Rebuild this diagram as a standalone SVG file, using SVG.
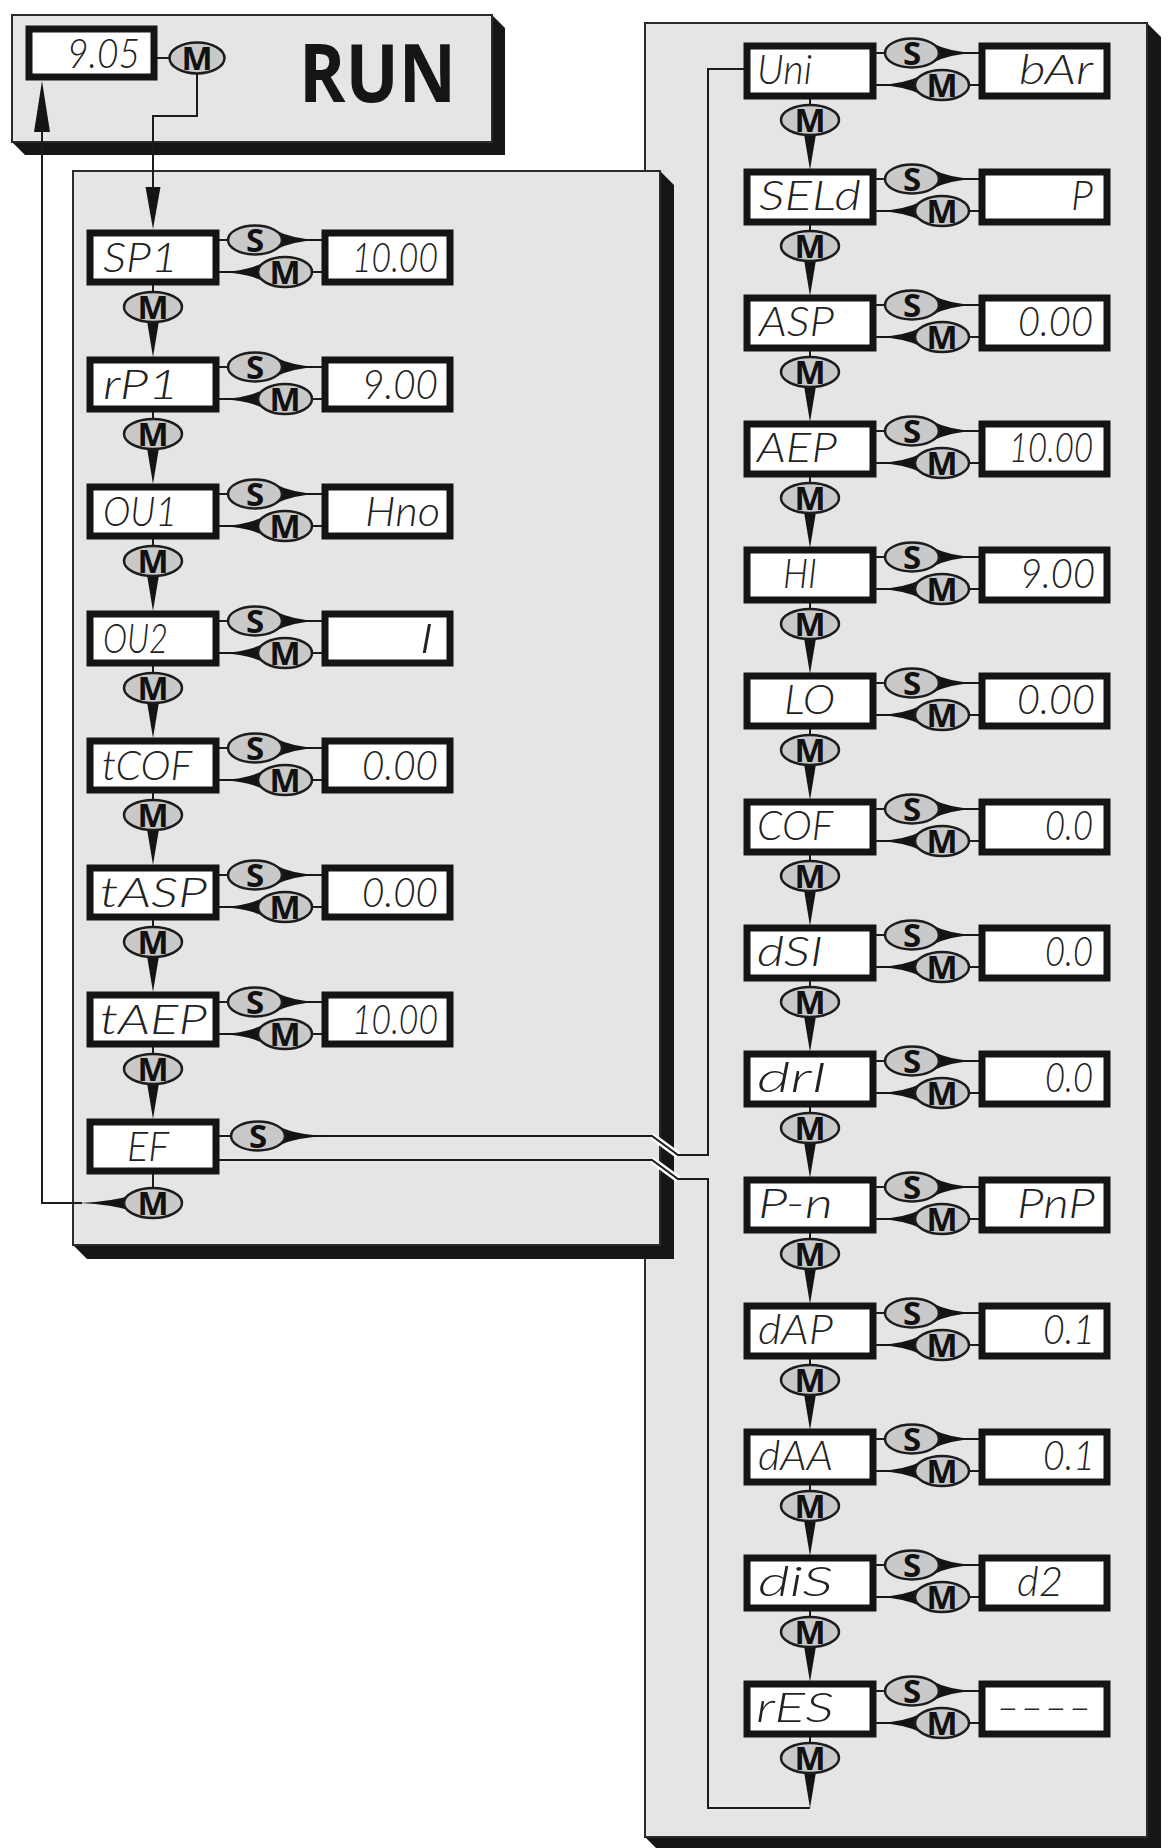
<svg xmlns="http://www.w3.org/2000/svg" width="1168" height="1848" viewBox="0 0 1168 1848">
<defs>
<style>
.panel{fill:#e5e5e5;stroke:#2b2b2b;stroke-width:2}
.shadow{fill:#161616}
.box{fill:#fff;stroke:#141414;stroke-width:7}
.ln{fill:none;stroke:#1c1c1c;stroke-width:2}
.halo{fill:none;stroke:#fff;stroke-width:7}
.arr{fill:#141414}
.ell{fill:#c9c9c9;stroke:#1c1c1c;stroke-width:2.5}
.key{font-family:"Open Sans","DejaVu Sans",sans-serif;font-weight:700;font-size:33px;fill:#111;text-anchor:middle}
.seg{font-family:"Lato","DejaVu Sans",sans-serif;font-weight:300;font-style:italic;font-size:41px;fill:#222}
.val{text-anchor:end}
.run{font-family:"Open Sans","DejaVu Sans",sans-serif;font-weight:700;font-size:80px;fill:#151515}
</style>
<g id="hl">
<line class="ln" x1="132" y1="10" x2="235" y2="10"/>
<line class="ln" x1="132" y1="42" x2="235" y2="42"/>
<path class="arr" d="M188,0 Q205,9 232,10 Q205,11 188,20 Z"/>
<path class="arr" d="M178,32 Q161,41 133,42 Q161,43 178,52 Z"/>
<ellipse class="ell" cx="168" cy="10" rx="27" ry="14.5"/>
<text class="key" x="168" y="21.5">S</text>
<ellipse class="ell" cx="198" cy="42" rx="27" ry="15"/>
<text class="key" x="198" y="53.5">M</text>
</g>
<g id="vl">
<line class="ln" x1="66" y1="55" x2="66" y2="64"/>
<path class="arr" d="M59,85 L66,127 L73,85 Z"/>
<ellipse class="ell" cx="66" cy="77" rx="29" ry="15"/>
<text class="key" x="66" y="88.5">M</text>
</g>
</defs>
<rect width="1168" height="1848" fill="#fff"/>
<g id="panels">
<g id="panel-right">
<polygon class="shadow" points="1147,23 1161,37 1161,1851 659,1851 645,1837"/>
<rect class="panel" x="645" y="23" width="502" height="1814"/>
</g>
<g id="panel-left">
<polygon class="shadow" points="660,171 674,185 674,1259 87,1259 73,1245"/>
<rect class="panel" x="73" y="171" width="587" height="1074"/>
</g>
<g id="panel-run">
<polygon class="shadow" points="492,15 505,28 505,155 25,155 12,142"/>
<rect class="panel" x="12" y="15" width="480" height="127"/>
<text class="run" x="299" y="102" textLength="157" lengthAdjust="spacingAndGlyphs">RUN</text>
</g>
</g>
<g id="connectors">
<line class="ln" x1="157" y1="58" x2="171" y2="58"/>
<polyline class="ln" points="197,73 197,116 153,116 153,190"/>
<path class="arr" d="M145.5,187 L153,229 L160.5,187 Z"/>
<ellipse class="ell" cx="197" cy="58" rx="27.5" ry="15.5"/>
<text class="key" x="197" y="69.5">M</text>
<polyline class="ln" points="82,1203 42,1203 42,130"/>
<path class="arr" d="M34,132 L42,81 L50,132 Z"/>
<use href="#hl" x="87" y="230"/><use href="#vl" x="87" y="230"/>
<use href="#hl" x="87" y="357"/><use href="#vl" x="87" y="357"/>
<use href="#hl" x="87" y="484"/><use href="#vl" x="87" y="484"/>
<use href="#hl" x="87" y="611"/><use href="#vl" x="87" y="611"/>
<use href="#hl" x="87" y="738"/><use href="#vl" x="87" y="738"/>
<use href="#hl" x="87" y="865"/><use href="#vl" x="87" y="865"/>
<use href="#hl" x="87" y="992"/><use href="#vl" x="87" y="992"/>
<path class="halo" d="M652,1136 L678,1155"/>
<path class="halo" d="M652,1160 L678,1179"/>
<line class="ln" x1="219" y1="1136" x2="240" y2="1136"/>
<polyline class="ln" points="300,1136 652,1136 678,1155 708,1155 708,69 744,69"/>
<polyline class="ln" points="219,1160 652,1160 678,1179 708,1179 708,1808 810,1808"/>
<path class="arr" d="M278,1126 Q295,1135 330,1136 Q295,1137 278,1146 Z"/>
<ellipse class="ell" cx="258" cy="1136" rx="27" ry="14.5"/>
<text class="key" x="258" y="1147.5">S</text>
<line class="ln" x1="153" y1="1174" x2="153" y2="1190"/>
<path class="arr" d="M136,1194 Q111,1202 80,1203 Q111,1204 136,1212 Z"/>
<ellipse class="ell" cx="153" cy="1203" rx="29" ry="15"/>
<text class="key" x="153" y="1214.5">M</text>
<use href="#hl" x="744" y="43"/><use href="#vl" x="744" y="43"/>
<use href="#hl" x="744" y="169"/><use href="#vl" x="744" y="169"/>
<use href="#hl" x="744" y="295"/><use href="#vl" x="744" y="295"/>
<use href="#hl" x="744" y="421"/><use href="#vl" x="744" y="421"/>
<use href="#hl" x="744" y="547"/><use href="#vl" x="744" y="547"/>
<use href="#hl" x="744" y="673"/><use href="#vl" x="744" y="673"/>
<use href="#hl" x="744" y="799"/><use href="#vl" x="744" y="799"/>
<use href="#hl" x="744" y="925"/><use href="#vl" x="744" y="925"/>
<use href="#hl" x="744" y="1051"/><use href="#vl" x="744" y="1051"/>
<use href="#hl" x="744" y="1177"/><use href="#vl" x="744" y="1177"/>
<use href="#hl" x="744" y="1303"/><use href="#vl" x="744" y="1303"/>
<use href="#hl" x="744" y="1429"/><use href="#vl" x="744" y="1429"/>
<use href="#hl" x="744" y="1555"/><use href="#vl" x="744" y="1555"/>
<use href="#hl" x="744" y="1681"/><use href="#vl" x="744" y="1681"/>
</g>
<g id="node-run"><rect class="box" x="29" y="29" width="125" height="48"/><text class="seg val" x="140" y="68" textLength="73" lengthAdjust="spacingAndGlyphs">9.05</text></g>
<g id="node-SP1"><rect class="box" x="90" y="233" width="126" height="49"/><text class="seg" x="103" y="272" textLength="75" lengthAdjust="spacingAndGlyphs">SP1</text></g>
<g id="val-SP1"><rect class="box" x="325" y="233" width="125" height="49"/><text class="seg val" x="438" y="272" textLength="86" lengthAdjust="spacingAndGlyphs">10.00</text></g>
<g id="node-rP1"><rect class="box" x="90" y="360" width="126" height="49"/><text class="seg" x="103" y="399" textLength="76" lengthAdjust="spacingAndGlyphs">rP1</text></g>
<g id="val-rP1"><rect class="box" x="325" y="360" width="125" height="49"/><text class="seg val" x="438" y="399" textLength="76" lengthAdjust="spacingAndGlyphs">9.00</text></g>
<g id="node-OU1"><rect class="box" x="90" y="487" width="126" height="49"/><text class="seg" x="103" y="526" textLength="74" lengthAdjust="spacingAndGlyphs">OU1</text></g>
<g id="val-OU1"><rect class="box" x="325" y="487" width="125" height="49"/><text class="seg val" x="440" y="526" textLength="75" lengthAdjust="spacingAndGlyphs">Hno</text></g>
<g id="node-OU2"><rect class="box" x="90" y="614" width="126" height="49"/><text class="seg" x="103" y="653" textLength="65" lengthAdjust="spacingAndGlyphs">OU2</text></g>
<g id="val-OU2"><rect class="box" x="325" y="614" width="125" height="49"/><text class="seg val" x="434" y="653" textLength="15" lengthAdjust="spacingAndGlyphs">I</text></g>
<g id="node-tCOF"><rect class="box" x="90" y="741" width="126" height="49"/><text class="seg" x="102" y="780" textLength="90" lengthAdjust="spacingAndGlyphs">tCOF</text></g>
<g id="val-tCOF"><rect class="box" x="325" y="741" width="125" height="49"/><text class="seg val" x="438" y="780" textLength="76" lengthAdjust="spacingAndGlyphs">0.00</text></g>
<g id="node-tASP"><rect class="box" x="90" y="868" width="126" height="49"/><text class="seg" x="100" y="907" textLength="107" lengthAdjust="spacingAndGlyphs">tASP</text></g>
<g id="val-tASP"><rect class="box" x="325" y="868" width="125" height="49"/><text class="seg val" x="438" y="907" textLength="76" lengthAdjust="spacingAndGlyphs">0.00</text></g>
<g id="node-tAEP"><rect class="box" x="90" y="995" width="126" height="49"/><text class="seg" x="100" y="1034" textLength="107" lengthAdjust="spacingAndGlyphs">tAEP</text></g>
<g id="val-tAEP"><rect class="box" x="325" y="995" width="125" height="49"/><text class="seg val" x="438" y="1034" textLength="86" lengthAdjust="spacingAndGlyphs">10.00</text></g>
<g id="node-EF"><rect class="box" x="90" y="1122" width="126" height="49"/><text class="seg" x="127" y="1161" textLength="42" lengthAdjust="spacingAndGlyphs">EF</text></g>
<g id="node-Uni"><rect class="box" x="747" y="46" width="126" height="50"/><text class="seg" x="757" y="84" textLength="55" lengthAdjust="spacingAndGlyphs">Uni</text></g>
<g id="val-Uni"><rect class="box" x="982" y="46" width="125" height="50"/><text class="seg val" x="1093" y="84" textLength="74" lengthAdjust="spacingAndGlyphs">bAr</text></g>
<g id="node-SELd"><rect class="box" x="747" y="172" width="126" height="50"/><text class="seg" x="759" y="210" textLength="102" lengthAdjust="spacingAndGlyphs">SELd</text></g>
<g id="val-SELd"><rect class="box" x="982" y="172" width="125" height="50"/><text class="seg val" x="1093" y="210" textLength="22" lengthAdjust="spacingAndGlyphs">P</text></g>
<g id="node-ASP"><rect class="box" x="747" y="298" width="126" height="50"/><text class="seg" x="759" y="336" textLength="75" lengthAdjust="spacingAndGlyphs">ASP</text></g>
<g id="val-ASP"><rect class="box" x="982" y="298" width="125" height="50"/><text class="seg val" x="1093" y="336" textLength="75" lengthAdjust="spacingAndGlyphs">0.00</text></g>
<g id="node-AEP"><rect class="box" x="747" y="424" width="126" height="50"/><text class="seg" x="757" y="462" textLength="80" lengthAdjust="spacingAndGlyphs">AEP</text></g>
<g id="val-AEP"><rect class="box" x="982" y="424" width="125" height="50"/><text class="seg val" x="1093" y="462" textLength="84" lengthAdjust="spacingAndGlyphs">10.00</text></g>
<g id="node-HI"><rect class="box" x="747" y="550" width="126" height="50"/><text class="seg" x="783" y="588" textLength="34" lengthAdjust="spacingAndGlyphs">HI</text></g>
<g id="val-HI"><rect class="box" x="982" y="550" width="125" height="50"/><text class="seg val" x="1095" y="588" textLength="75" lengthAdjust="spacingAndGlyphs">9.00</text></g>
<g id="node-LO"><rect class="box" x="747" y="676" width="126" height="50"/><text class="seg" x="784" y="714" textLength="51" lengthAdjust="spacingAndGlyphs">LO</text></g>
<g id="val-LO"><rect class="box" x="982" y="676" width="125" height="50"/><text class="seg val" x="1095" y="714" textLength="78" lengthAdjust="spacingAndGlyphs">0.00</text></g>
<g id="node-COF"><rect class="box" x="747" y="802" width="126" height="50"/><text class="seg" x="757" y="840" textLength="76" lengthAdjust="spacingAndGlyphs">COF</text></g>
<g id="val-COF"><rect class="box" x="982" y="802" width="125" height="50"/><text class="seg val" x="1093" y="840" textLength="48" lengthAdjust="spacingAndGlyphs">0.0</text></g>
<g id="node-dSI"><rect class="box" x="747" y="928" width="126" height="50"/><text class="seg" x="757" y="966" textLength="66" lengthAdjust="spacingAndGlyphs">dSI</text></g>
<g id="val-dSI"><rect class="box" x="982" y="928" width="125" height="50"/><text class="seg val" x="1093" y="966" textLength="48" lengthAdjust="spacingAndGlyphs">0.0</text></g>
<g id="node-drI"><rect class="box" x="747" y="1054" width="126" height="50"/><text class="seg" x="757" y="1092" textLength="70" lengthAdjust="spacingAndGlyphs">drI</text></g>
<g id="val-drI"><rect class="box" x="982" y="1054" width="125" height="50"/><text class="seg val" x="1093" y="1092" textLength="48" lengthAdjust="spacingAndGlyphs">0.0</text></g>
<g id="node-P-n"><rect class="box" x="747" y="1180" width="126" height="50"/><text class="seg" x="758" y="1218" textLength="75" lengthAdjust="spacingAndGlyphs">P-n</text></g>
<g id="val-P-n"><rect class="box" x="982" y="1180" width="125" height="50"/><text class="seg val" x="1095" y="1218" textLength="78" lengthAdjust="spacingAndGlyphs">PnP</text></g>
<g id="node-dAP"><rect class="box" x="747" y="1306" width="126" height="50"/><text class="seg" x="758" y="1344" textLength="75" lengthAdjust="spacingAndGlyphs">dAP</text></g>
<g id="val-dAP"><rect class="box" x="982" y="1306" width="125" height="50"/><text class="seg val" x="1095" y="1344" textLength="52" lengthAdjust="spacingAndGlyphs">0.1</text></g>
<g id="node-dAA"><rect class="box" x="747" y="1432" width="126" height="50"/><text class="seg" x="758" y="1470" textLength="75" lengthAdjust="spacingAndGlyphs">dAA</text></g>
<g id="val-dAA"><rect class="box" x="982" y="1432" width="125" height="50"/><text class="seg val" x="1095" y="1470" textLength="52" lengthAdjust="spacingAndGlyphs">0.1</text></g>
<g id="node-diS"><rect class="box" x="747" y="1558" width="126" height="50"/><text class="seg" x="758" y="1596" textLength="75" lengthAdjust="spacingAndGlyphs">diS</text></g>
<g id="val-diS"><rect class="box" x="982" y="1558" width="125" height="50"/><text class="seg val" x="1063" y="1596" textLength="46" lengthAdjust="spacingAndGlyphs">d2</text></g>
<g id="node-rES"><rect class="box" x="747" y="1684" width="126" height="50"/><text class="seg" x="756" y="1722" textLength="78" lengthAdjust="spacingAndGlyphs">rES</text></g>
<g id="val-rES"><rect class="box" x="982" y="1684" width="125" height="50"/><text class="seg val" x="1092" y="1722" textLength="96" lengthAdjust="spacingAndGlyphs">----</text></g>
</svg>
